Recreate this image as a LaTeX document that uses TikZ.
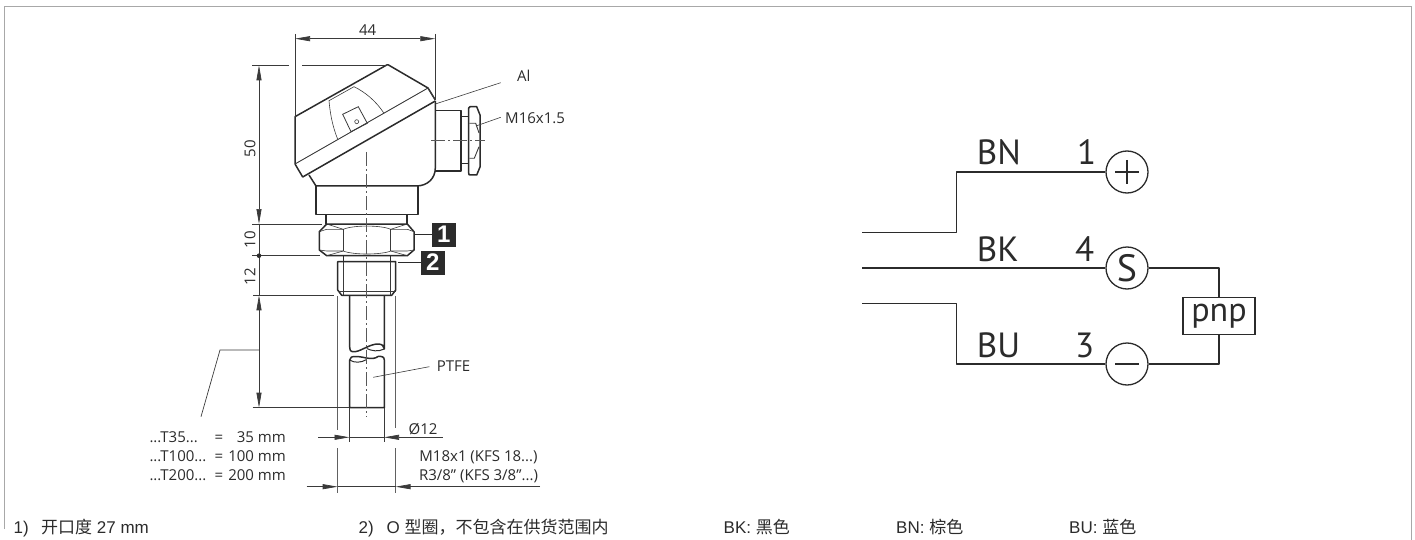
\documentclass[tikz,border=0pt]{standalone}
\usepackage{fontspec}
\setmainfont{Open Sans}
\newfontfamily\cjk{Noto Sans CJK SC}
\newfontfamily\lib{Liberation Sans}
\newfontfamily\pts{PT Sans}
\usetikzlibrary{arrows.meta}
\definecolor{ink}{HTML}{2B2B2B}
\definecolor{dimc}{HTML}{3A3A3A}
\definecolor{framec}{HTML}{A8A8A8}
\tikzset{
  outline/.style={draw=ink,line width=1.5pt,line join=round},
  fine/.style={draw=dimc,line width=0.6pt},
  dimln/.style={draw=dimc,line width=0.7pt},
  extln/.style={draw=dimc,line width=0.7pt},
  threadext/.style={draw=dimc!80,line width=0.9pt},
  axisln/.style={draw=dimc!85,line width=0.8pt,dash pattern=on 14pt off 3pt on 2pt off 3pt},
  tipa/.style={-{Stealth[length=15pt,width=5pt,inset=0pt]}},
  tipb/.style={{Stealth[length=15pt,width=5pt,inset=0pt]}-{Stealth[length=15pt,width=5pt,inset=0pt]}},
  lbl/.style={inner sep=0pt,text=ink,font=\fontsize{15}{15}\selectfont},
  foot/.style={inner sep=0pt,anchor=base west,text=ink,font=\lib\fontsize{17}{17}\selectfont},
  tag/.style={fill=ink,text=white,inner sep=0pt,minimum width=24pt,minimum height=24pt,font=\lib\bfseries\fontsize{24}{24}\selectfont},
  wire/.style={draw=ink,line width=1.5pt,line join=round},
  term/.style={circle,draw=ink,line width=1.3pt,minimum size=42pt,inner sep=0pt,font=\pts\fontsize{38}{38}\selectfont,text=ink},
  bigt/.style={inner sep=0pt,anchor=base west,text=ink,font=\pts\fontsize{35}{35}\selectfont},
}
\begin{document}
\begin{tikzpicture}[x=1pt,y=-1pt]
\useasboundingbox (0,0) rectangle (1415,540);
% frame
\draw[framec,line width=1.1pt] (4.5,529) -- (4.5,6.5) -- (1411.5,6.5) -- (1411.5,540);
% head
\draw[outline] (295,164) -- (295,116.7) -- (386.7,65) -- (388.5,65) -- (428,88) -- (435.3,100);
\draw[outline] (295,164) -- (302.7,177) -- (435.3,101) ;
\draw[fine,line width=.9pt] (295,164) -- (428,88) -- (435.3,100);
\draw[outline] (309,175) -- (316,186) -- (416,186) .. controls (428,186) and (435.3,178) .. (435.3,168) -- (435.3,101);
% window
\draw[fine] (337.7,139.3) .. controls (332,125) and (330,112) .. (329,100.7) -- (354,86.7) .. controls (365,92) and (376,101) .. (384,113.3);
\draw[fine,line width=.8pt] (342.7,114.3) -- (358.3,106.7) -- (367.3,123.3) -- (351,131.7) -- cycle;
\draw[fine] (356.7,121.7) circle (2);
% cable gland
\draw[outline] (435.3,110.7) -- (461,110.7) -- (461,171) -- (435.3,171);
\draw[outline] (461,116.7) -- (468.7,116.7);
\draw[outline] (461,163.3) -- (468.7,163.3);
\draw[outline] (470,175) -- (476.7,175) -- (480,167) -- (480,115) -- (476.7,106.7) -- (470,106.7) .. controls (469,106.7) and (468.7,107) .. (468.7,108) -- (468.7,173) .. controls (468.7,174.5) and (469,175) .. (470,175);
\draw[fine,line width=.9pt] (469.3,123.3) -- (475.7,123.3) -- (479,133);
\draw[fine,line width=.9pt] (479,146.7) -- (474.3,158.3) -- (469.3,158.3);
\draw[axisln] (431,140.7) -- (485,140.7);
% neck under body
\draw[outline] (316,186) -- (316,214.7) -- (418,214.7) -- (418,186);
\draw[outline] (326,214.7) -- (326,224);
\draw[outline] (407,214.7) -- (407,224);
% hex nut
\draw[outline] (326.7,224) -- (407.3,224) -- (414,231.7) -- (414,250) -- (407.3,255.7) -- (326.7,255.7) -- (319.3,250) -- (319.3,231.7) -- cycle;
\draw[fine] (343.3,229.3) -- (343.3,251);
\draw[fine] (390.7,229.3) -- (390.7,251);
\draw[fine] (326.7,224) -- (343.3,229.3) .. controls (353,225) and (381,225) .. (390.7,229.3) -- (407.3,224);
\draw[fine] (326.7,255.7) -- (343.3,251) .. controls (353,255) and (381,255) .. (390.7,251) -- (407.3,255.7);
\draw[fine] (319.3,231.7) -- (326.7,229.3) -- (343.3,229.3);
\draw[fine] (390.7,229.3) -- (407.3,229.3) -- (414,231.7);
\draw[fine] (319.3,250) -- (326.7,251) -- (343.3,251);
\draw[fine] (390.7,251) -- (407.3,251) -- (414,250);
% thread
\draw[outline] (343.3,255.7) -- (343.3,261.7);
\draw[outline] (390.7,255.7) -- (390.7,261.7);
\draw[outline] (337.7,261.7) -- (395.7,261.7) -- (395.7,290) -- (391.7,295.3) -- (341.7,295.3) -- (337.7,290) -- cycle;
\draw[fine] (343.3,261.7) -- (343.3,295.3);
\draw[fine] (390.7,261.7) -- (390.7,295.3);
\draw[fine] (337.7,291) -- (395.7,291);
\draw[threadext] (337.7,296) -- (337.7,430);
\draw[threadext] (395.5,296) -- (395.5,427.7);
\draw[threadext] (337.7,448) -- (337.7,492.7);
\draw[threadext] (395.5,448) -- (395.5,492.7);
% tube
\draw[outline] (349.7,295.3) -- (349.7,347) .. controls (349.7,352) and (352,352) .. (356,351.5) .. controls (362,350.5) and (370,344) .. (378,344) .. controls (382,344) and (384.3,346) .. (384.3,349) -- (384.3,295.3);
\draw[outline,line width=1pt] (366.7,348.5) .. controls (372,351) and (378,352) .. (384.3,349);
\draw[outline] (349.7,407.7) -- (349.7,360) .. controls (349.7,357) and (352,356.5) .. (356,356.5) .. controls (364,356.5) and (372,361) .. (378,356.5) .. controls (382,356) and (384.3,357) .. (384.3,360) -- (384.3,407.7) -- cycle;
\draw[outline,line width=1pt] (349.7,360) .. controls (354,363) and (361,363) .. (366.7,359.5);
% main axis
\draw[axisln] (366.7,152) -- (366.7,417);
% dims
\coordinate (a44l) at (295,38.7); \coordinate (a44r) at (435.3,38.7);
\draw[extln] (295,34) -- (295,117);
\draw[extln] (435.3,34) -- (435.3,100);
\draw[dimln,tipb] (a44l) -- (a44r);
\node[lbl] (t44) at (367.7,30) {44};
\draw[extln] (252,65.3) -- (289,65.3);
\draw[extln] (302,65.3) -- (387,65.3);
\draw[extln] (252,224) -- (322,224);
\draw[extln] (252,255.7) -- (320,255.7);
\draw[extln] (253,295.3) -- (334,295.3);
\draw[extln] (252.7,407.7) -- (349,407.7);
\coordinate (d50t) at (259,65.3); \coordinate (d50b) at (259,224);
\draw[dimln,tipb] (d50t) -- (d50b);
\draw[dimln] (259,224) -- (259,255.7);
\draw[dimln] (259,255.7) -- (259,295.3);
\fill[ink] (259,255.7) circle (2.3);
\coordinate (d35t) at (259,295.3); \coordinate (d35b) at (259,407.7);
\draw[dimln,tipb] (d35t) -- (d35b);
\node[lbl,rotate=90] (t50) at (250,149) {50};
\node[lbl,rotate=90] (t10) at (250,239.5) {10};
\node[lbl,rotate=90] (t12) at (250,277) {12};
% T leader
\coordinate (tl0) at (259,350); \coordinate (tl1) at (220,350); \coordinate (tl2) at (201,416.7);
\draw[dimln] (tl0) -- (tl1) -- (tl2);
\node[lbl,anchor=base west] (t35a) at (149.3,442.5) {...T35...};
\node[lbl,anchor=base west] (t35b) at (214.3,442.5) {=};
\node[lbl,anchor=base east] (t35c) at (286,442.5) {35 mm};
\node[lbl,anchor=base west] (t100a) at (149.3,461.5) {...T100...};
\node[lbl,anchor=base west] (t100b) at (214.3,461.5) {=};
\node[lbl,anchor=base east] (t100c) at (286,461.5) {100 mm};
\node[lbl,anchor=base west] (t200a) at (149.3,480.5) {...T200...};
\node[lbl,anchor=base west] (t200b) at (214.3,480.5) {=};
\node[lbl,anchor=base east] (t200c) at (286,480.5) {200 mm};
% O12
\draw[extln] (349.5,408) -- (349.5,441.7);
\draw[extln] (384,408) -- (384,441.7);
\coordinate (o1) at (318,437.3); \coordinate (o2) at (349.5,437.3); \coordinate (o3) at (384,437.3); \coordinate (o4) at (442.7,437.3);
\draw[dimln,tipa] (o1) -- (o2);
\draw[dimln] (o2) -- (o3);
\draw[dimln,tipa] (o4) -- (o3);
\node[lbl] (to12) at (423,429) {Ø12};
% thread dim
\coordinate (m1) at (306.7,486.7); \coordinate (m2) at (337.7,486.7); \coordinate (m3) at (395.5,486.7); \coordinate (m4) at (540,486.7);
\draw[dimln,tipa] (m1) -- (m2);
\draw[dimln] (m2) -- (m3);
\draw[dimln,tipa] (m4) -- (m3);
\node[lbl] (tm18) at (478.5,457) {M18x1 (KFS 18...)};
\node[lbl] (tr38) at (478.5,476) {R3/8" (KFS 3/8"...)};
% labels
\node[lbl,anchor=west] (tal) at (517,76) {Al};
\coordinate (lal) at (435.3,104);
\draw[fine] (lal) -- (500.7,82.7);
\node[lbl,anchor=west] (tm16) at (505,118) {M16x1.5};
\coordinate (lm16) at (476,126);
\draw[fine] (lm16) -- (500.7,117.3);
\node[lbl,anchor=west] (tptfe) at (436.7,366) {PTFE};
\coordinate (lp) at (373.3,377.3);
\draw[fine] (lp) -- (429.3,366.7);
% tags
\node[tag] (tg1) at (443.7,234.5) {1};
\node[tag] (tg2) at (432.8,262.5) {2};
\coordinate (c1) at (415,234.5); \coordinate (c2) at (398.3,262.5);
\draw[outline,line width=1pt] (c1) -- (tg1);
\draw[outline,line width=1pt] (c2) -- (tg2);
% schematic
\node[term] (plus) at (1127,172) {};
\node[term] (sig) at (1127,268) {S};
\node[term] (minus) at (1127,364) {};
\draw[draw=ink,line width=1.1pt] (1115,172) -- (1139,172) (1127,160) -- (1127,184);
\draw[draw=ink,line width=1.1pt] (1115,364) -- (1139,364);
\node[draw=ink,line width=1.2pt,minimum width=72pt,minimum height=37pt,inner sep=0pt,text=ink,font=\pts\fontsize{34}{34}\selectfont] (pnp) at (1219,315.7) {pnp};
\coordinate (w1) at (862,232.7); \coordinate (w2) at (956.7,232.7); \coordinate (w3) at (956.7,172);
\draw[wire] (w1) -- (w2) -- (w3) -- (plus);
\coordinate (w4) at (862,268);
\draw[wire] (w4) -- (sig);
\coordinate (w5) at (862,303.3); \coordinate (w6) at (956.7,303.3); \coordinate (w7) at (956.7,364);
\draw[wire] (w5) -- (w6) -- (w7) -- (minus);
\coordinate (w8) at (1219,268); \coordinate (w9) at (1219,364);
\draw[wire] (sig) -- (w8) -- (pnp);
\draw[wire] (pnp) -- (w9) -- (minus);
\node[bigt] (bn) at (976.7,165) {BN};
\node[bigt] (n1) at (1077,165) {1};
\node[bigt] (bk) at (976.7,261) {BK};
\node[bigt] (n4) at (1075,261) {4};
\node[bigt] (bu) at (976.7,357) {BU};
\node[bigt] (n3) at (1075,357) {3};
% footnotes
\node[foot] (f1) at (13.5,533) {1)};
\node[foot] (f1b) at (41,533) {{\cjk 开口度} 27 mm};
\node[foot] (f2) at (358.5,533) {2)};
\node[foot] (f2b) at (386.5,533) {O {\cjk 型圈，不包含在供货范围内}};
\node[foot] (fk) at (723.5,533) {BK: {\cjk 黑色}};
\node[foot] (fn) at (896,533) {BN: {\cjk 棕色}};
\node[foot] (fu) at (1069,533) {BU: {\cjk 蓝色}};
\end{tikzpicture}
\end{document}
